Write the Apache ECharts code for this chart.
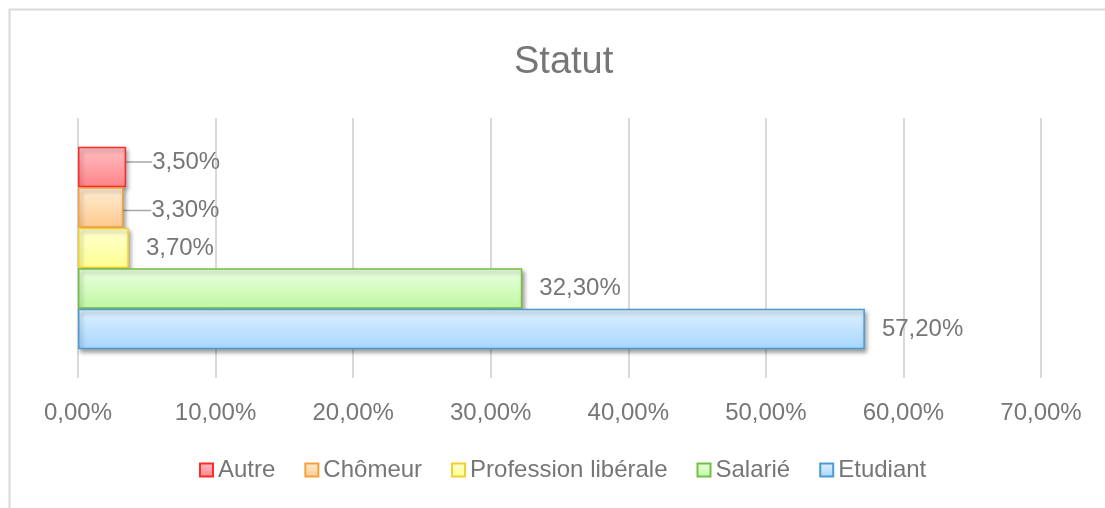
<!DOCTYPE html>
<html>
<head>
<meta charset="utf-8">
<script src="https://cdn.jsdelivr.net/npm/echarts@6/dist/echarts.min.js"></script>
<style>
html,body{margin:0;padding:0;background:#fff;}
#c{width:1105px;height:508px;}
</style>
</head>
<body>
<div id="c"></div>
<script>
const titleText = 'Statut';
const seriesNames = ['Autre', 'Chômeur', 'Profession libérale', 'Salarié', 'Etudiant'];
const seriesValues = [3.5, 3.3, 3.7, 32.3, 57.2];
const xTicks = [0, 10, 20, 30, 40, 50, 60, 70];

const styles = {
  'Autre': {top: '#ffc0c4', bottom: '#ff8488', border: '#ff2a2a'},
  'Chômeur': {top: '#ffeed6', bottom: '#ffc98c', border: '#f4a23c'},
  'Profession libérale': {top: '#ffffd2', bottom: '#ffff92', border: '#f2d02c'},
  'Salarié': {top: '#ecffe2', bottom: '#bff8a2', border: '#72c044'},
  'Etudiant': {top: '#dff1ff', bottom: '#a6d6ff', border: '#4c9ad2'}
};
const fmt = v => v.toFixed(2).replace('.', ',') + '%';
const font = '"Liberation Sans", Arial, sans-serif';
const gray = '#767676';

// first series is drawn at the top
const series = seriesNames.map((name, i) => {
  const s = styles[name];
  const leader = (name === 'Autre' || name === 'Chômeur');
  const obj = {
    name: name,
    type: 'bar',
    barWidth: 40.5,
    barGap: '0%',
    data: [seriesValues[i]],
    itemStyle: {
      color: {type: 'linear', x: 0, y: 0, x2: 0, y2: 1,
        colorStops: [{offset: 0, color: s.top}, {offset: 1, color: s.bottom}]},
      borderColor: s.border,
      borderWidth: 1.5,
      shadowColor: 'rgba(0,0,0,0.35)',
      shadowBlur: 4,
      shadowOffsetX: 2,
      shadowOffsetY: 3
    },
    label: {
      show: true,
      position: 'right',
      distance: leader ? 6 : 17,
      color: gray,
      fontFamily: font,
      fontSize: 24,
      formatter: p => fmt(p.value)
    }
  };
  if (leader) {
    obj.labelLayout = name === 'Autre' ? {dx: 20, dy: -5} : {dx: 22, dy: 3};
    obj.labelLine = {show: true, length2: 0, lineStyle: {color: '#a6a6a6', width: 1.5}};
  }
  return obj;
});

const chart = echarts.init(document.getElementById('c'), null, {renderer: 'canvas'});
chart.setOption({
  animation: false,
  backgroundColor: '#fff',
  title: {
    text: titleText,
    left: 509,
    top: 39,
    textStyle: {fontFamily: font, fontSize: 38, fontWeight: 'normal', color: gray}
  },
  graphic: [{
    type: 'rect', silent: true, z: -1,
    shape: {x: 9.5, y: 9.5, width: 1120, height: 520},
    style: {fill: 'none', stroke: '#d9d9d9', lineWidth: 2}
  }],
  legend: {
    data: seriesNames,
    top: 453,
    left: 194,
    itemWidth: 13,
    itemHeight: 13,
    itemGap: 29,
    icon: 'rect',
    textStyle: {fontFamily: font, fontSize: 24, color: gray, padding: [0, 0, 0, 0]}
  },
  grid: {left: 78, right: 64, top: 118, bottom: 130, containLabel: false},
  xAxis: {
    type: 'value',
    min: xTicks[0],
    max: xTicks[xTicks.length - 1],
    interval: 10,
    axisLine: {show: false},
    axisTick: {show: false},
    splitLine: {show: true, lineStyle: {color: '#d9d9d9', width: 2}},
    axisLabel: {
      margin: 23,
      fontFamily: font, fontSize: 24, color: gray,
      formatter: v => fmt(v)
    }
  },
  yAxis: {
    type: 'category',
    data: [''],
    axisLine: {show: false},
    axisTick: {show: false},
    axisLabel: {show: false}
  },
  series: series
});
</script>
</body>
</html>
